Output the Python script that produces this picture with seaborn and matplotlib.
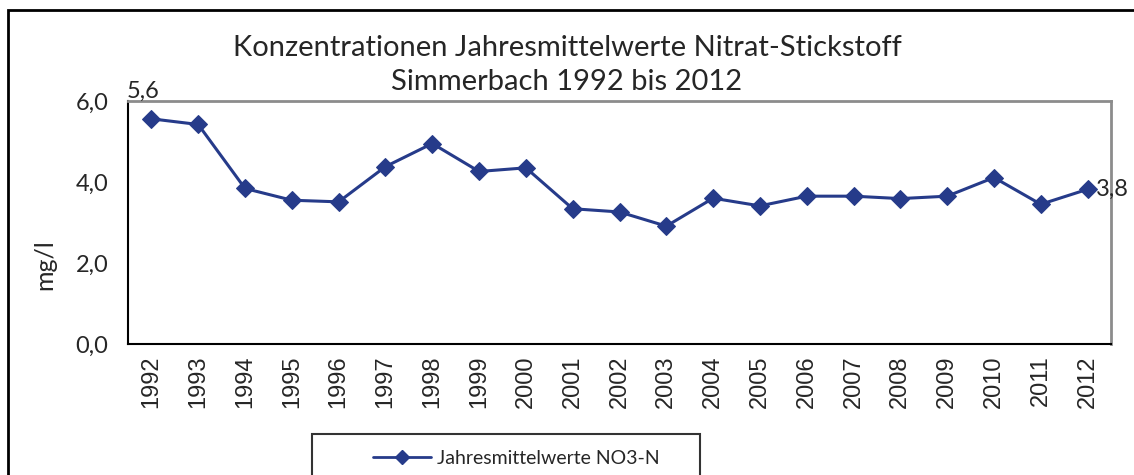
import pandas as pd
import matplotlib.pyplot as plt
import matplotlib as mpl
import seaborn as sns
from matplotlib.patches import Rectangle
from matplotlib.ticker import FixedLocator, FuncFormatter

# Jahresmittelwerte NO3-N (mg/l)
years = [str(y) for y in range(1992, 2013)]
values = [5.56, 5.42, 3.84, 3.55, 3.51, 4.38, 4.95, 4.26, 4.35, 3.34,
          3.26, 2.91, 3.60, 3.41, 3.65, 3.65, 3.59, 3.65, 4.11, 3.45, 3.82]
series_name = 'Jahresmittelwerte NO3-N'
title = 'Konzentrationen Jahresmittelwerte Nitrat-Stickstoff\nSimmerbach 1992 bis 2012'
yticks = [0, 2, 4, 6]

sns.set_style('white')
plt.rcParams['font.family'] = ['Lato', 'DejaVu Sans']

df = pd.DataFrame({'Jahr': years, 'NO3-N': values})
line_col = '#263b8a'
comma = lambda v: f'{v:.1f}'.replace('.', ',')

fig = plt.figure(figsize=(11.34, 4.75), dpi=100)
ax = fig.add_axes([128/1134, 1-344/475, (1111-128)/1134, (344-101)/475])

sns.lineplot(x='Jahr', y='NO3-N', data=df, ax=ax, color=line_col, linewidth=2.2,
             marker='D', markersize=9, markeredgecolor=line_col, legend=False)

ax.set_xlim(-0.5, len(years) - 0.5)
ax.set_ylim(0, 6)
ax.set_xlabel('')
ax.set_ylabel('')

# x: labels centred, tick marks between categories
ax.xaxis.set_major_locator(FixedLocator(range(len(years))))
ax.set_xticklabels(years, rotation=90, fontsize=17, family='Liberation Sans')
ax.xaxis.set_minor_locator(FixedLocator([i - 0.5 for i in range(len(years) + 1)]))
ax.tick_params(axis='x', which='major', length=0, pad=8)
ax.tick_params(axis='x', which='minor', length=8, width=1.2, color='black', direction='out')

ax.set_yticks(yticks)
ax.yaxis.set_major_formatter(FuncFormatter(lambda v, p: comma(v)))
ax.tick_params(axis='y', length=7, width=1.2, color='black', direction='out', labelsize=17, pad=7)

for s in ['left', 'bottom']:
    ax.spines[s].set_color('black')
    ax.spines[s].set_linewidth(1.5)
for s in ['top', 'right']:
    ax.spines[s].set_color('#8c8c8c')
    ax.spines[s].set_linewidth(2)

# data labels for first and last value
ax.annotate(comma(values[0]), (0, values[0]), xytext=(-18, 12),
            textcoords='offset points', fontsize=17, va='bottom', ha='left')
ax.annotate(comma(values[-1]), (len(years) - 1, values[-1]), xytext=(6, 0),
            textcoords='offset points', fontsize=17, va='center', ha='left')

fig.text(0.5, 1-65/475, title, ha='center', va='center', fontsize=21, linespacing=1.42)
fig.text(45/1134, 1-265/475, 'mg/l', rotation=90, ha='center', va='center', fontsize=18)

# chart border and legend box
fig.patches.append(Rectangle((8/1134, -0.1), 1.2, 1-10/475 + 0.1, transform=fig.transFigure,
                             fill=False, edgecolor='black', linewidth=2))
fig.patches.append(Rectangle((312/1134, -0.1), (700-312)/1134, 1-434/475 + 0.1,
                             transform=fig.transFigure, fill=False, edgecolor='#333333', linewidth=1.5))
h = [mpl.lines.Line2D([], [], color=line_col, lw=2, marker='D', markersize=7)]
fig.legend(h, [series_name], loc='center left', bbox_to_anchor=(355/1134, 1-458/475),
           frameon=False, fontsize=14, handlelength=3, handletextpad=0.3)

fig.savefig('out.png', dpi=100)
